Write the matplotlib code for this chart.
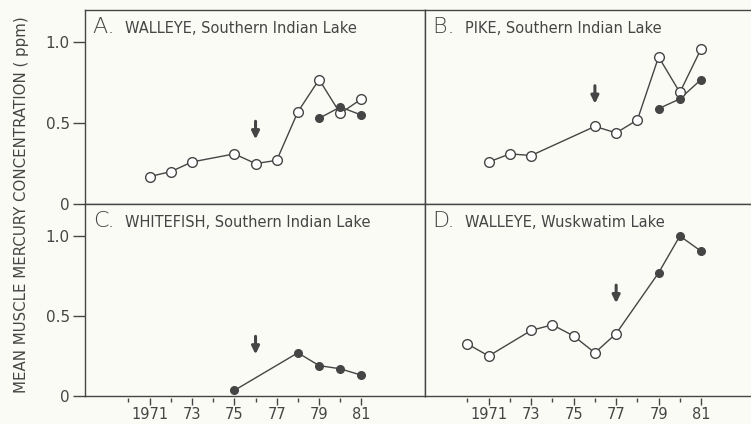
import matplotlib
matplotlib.use("Agg")
import matplotlib.pyplot as plt

# A. walleye, Southern Indian Lake
years_a_open = [1971, 1972, 1973, 1975, 1976, 1977, 1978, 1979, 1980, 1981]
hg_a_open = [0.17, 0.20, 0.26, 0.31, 0.25, 0.27, 0.57, 0.77, 0.56, 0.65]
years_a_filled = [1979, 1980, 1981]
hg_a_filled = [0.53, 0.60, 0.55]

# B. pike, Southern Indian Lake
years_b_open = [1971, 1972, 1973, 1976, 1977, 1978, 1979, 1980, 1981]
hg_b_open = [0.26, 0.31, 0.30, 0.48, 0.44, 0.52, 0.91, 0.69, 0.96]
years_b_filled = [1979, 1980, 1981]
hg_b_filled = [0.59, 0.65, 0.77]

# C. whitefish, Southern Indian Lake
years_c_filled = [1975, 1978, 1979, 1980, 1981]
hg_c_filled = [0.035, 0.27, 0.19, 0.17, 0.13]

# D. walleye, Wuskwatim Lake
years_d_open = [1970, 1971, 1973, 1974, 1975, 1976, 1977]
hg_d_open = [0.325, 0.25, 0.41, 0.445, 0.375, 0.27, 0.39]
years_d_filled = [1979, 1980, 1981]
hg_d_filled = [0.77, 1.0, 0.905]

# arrows (year, value at arrow tip)
arrow_a = (1976, 0.40)
arrow_b = (1976, 0.62)
arrow_c = (1976, 0.26)
arrow_d = (1977, 0.58)

panel_letters = ["A", "B", "C", "D"]
panel_titles = ["WALLEYE, Southern Indian Lake", "PIKE, Southern Indian Lake",
                "WHITEFISH, Southern Indian Lake", "WALLEYE, Wuskwatim Lake"]
year_ticks = list(range(1970, 1982))
year_labels = ["", "1971", "", "73", "", "75", "", "77", "", "79", "", "81"]
y_ticks = [0, 0.5, 1.0]
y_labels = ["0", "0.5", "1.0"]

ink = "#454545"
bg = "#fbfbf6"
plt.rcParams['font.family'] = ['DejaVu Sans']
plt.rcParams['text.color'] = ink

W, H = 751, 424
fig = plt.figure(figsize=(W / 100, H / 100), dpi=100, facecolor=bg)

def box(x0, y0, x1, y1):
    return [x0 / W, 1 - y1 / H, (x1 - x0) / W, (y1 - y0) / H]

ax_a = fig.add_axes(box(85, 10, 425, 204))
ax_b = fig.add_axes(box(425, 10, 751, 204))
ax_c = fig.add_axes(box(85, 204, 425, 396))
ax_d = fig.add_axes(box(425, 204, 751, 396))
axes = [ax_a, ax_b, ax_c, ax_d]

for ax in axes:
    ax.set_facecolor(bg)
    ax.set_ylim(0, 1.2)
    for s in ax.spines.values():
        s.set_color(ink)
        s.set_linewidth(1.0)
    ax.tick_params(bottom=False, labelbottom=False, left=False, labelleft=False)

for ax in (ax_a, ax_c):
    ax.set_xlim(1967.95, 1984.0)
    ax.set_yticks(y_ticks)
    ax.set_yticklabels(y_labels)
    ax.tick_params(left=True, labelleft=True, length=9, width=1.0, color=ink,
                   labelcolor=ink, labelsize=11, pad=2)
for ax in (ax_b, ax_d):
    ax.set_xlim(1968.0, 1983.35)
    ax.spines['right'].set_visible(False)

for ax in (ax_c, ax_d):
    sec = ax.secondary_xaxis(-0.012)
    sec.spines['bottom'].set_visible(False)
    sec.set_xticks([y for y in year_ticks if y % 2 == 1])
    sec.set_xticklabels([l for l in year_labels if l])
    sec.set_xticks([y for y in year_ticks if y % 2 == 0], minor=True)
    sec.tick_params(which='major', length=5, width=1.0, color=ink,
                    labelcolor=ink, labelsize=10.5, pad=1.5)
    sec.tick_params(which='minor', length=3, width=1.0, color=ink)

line_kw = dict(color=ink, lw=1.0)
open_kw = dict(marker='o', ms=7, mfc='white', mec=ink, mew=1.0, ls='none')
fill_kw = dict(marker='o', ms=5.5, mfc=ink, mec=ink, ls='none')

ax_a.plot(years_a_open, hg_a_open, **line_kw)
ax_a.plot(years_a_filled, hg_a_filled, **line_kw)
ax_a.plot(years_a_open, hg_a_open, **open_kw)
ax_a.plot(years_a_filled, hg_a_filled, **fill_kw)

ax_b.plot(years_b_open, hg_b_open, **line_kw)
ax_b.plot(years_b_filled, hg_b_filled, **line_kw)
ax_b.plot(years_b_open, hg_b_open, **open_kw)
ax_b.plot(years_b_filled, hg_b_filled, **fill_kw)

ax_c.plot(years_c_filled, hg_c_filled, **line_kw)
ax_c.plot(years_c_filled, hg_c_filled, **fill_kw)

ax_d.plot(years_d_open + years_d_filled, hg_d_open + hg_d_filled, **line_kw)
ax_d.plot(years_d_open, hg_d_open, **open_kw)
ax_d.plot(years_d_filled, hg_d_filled, **fill_kw)

for ax, arrow in zip(axes, [arrow_a, arrow_b, arrow_c, arrow_d]):
    ax.annotate('', xy=arrow, xytext=(0, 13), textcoords='offset points',
                arrowprops=dict(arrowstyle='-|>,head_width=0.22,head_length=0.45',
                                lw=2.2, color=ink, shrinkA=0, shrinkB=0))

for ax, letter, title in zip(axes, panel_letters, panel_titles):
    ax.annotate(letter, xy=(0, 1), xycoords='axes fraction', xytext=(5.5, -16.5),
                textcoords='offset points', fontsize=16, va='baseline', ha='left',
                color=ink, fontweight='light')
    ax.annotate('.', xy=(0, 1), xycoords='axes fraction', xytext=(17, -16.5),
                textcoords='offset points', fontsize=9, va='baseline', ha='left',
                color=ink)
    ax.annotate(title, xy=(0, 1), xycoords='axes fraction', xytext=(28.5, -16.5),
                textcoords='offset points', fontsize=10.5, va='baseline', ha='left',
                color=ink)

fig.text(22 / W, 1 - 205 / H, "MEAN MUSCLE MERCURY CONCENTRATION ( ppm)",
         rotation=90, ha='center', va='center', fontsize=10.8, color=ink)

fig.savefig("out.png", dpi=100, facecolor=bg)
